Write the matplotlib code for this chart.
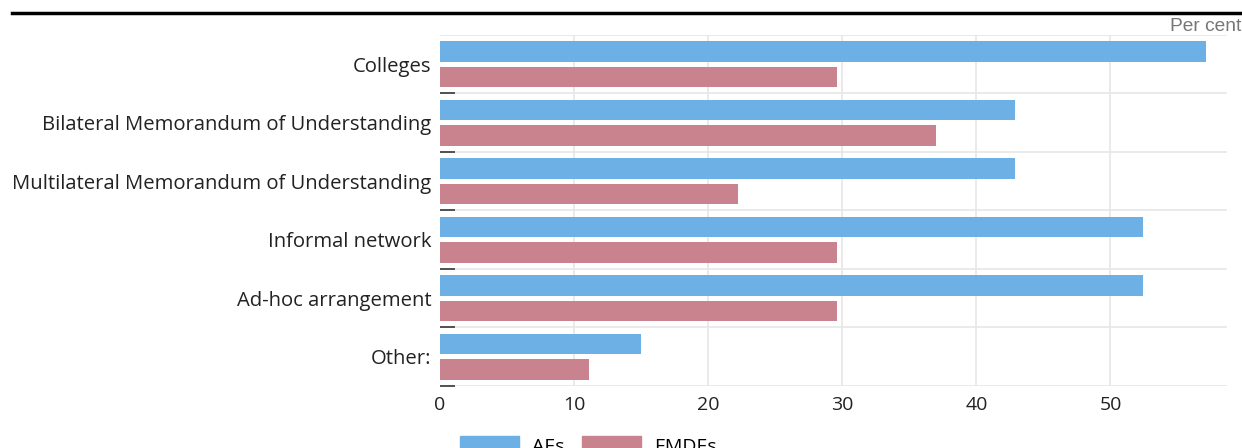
import matplotlib
matplotlib.use("Agg")
import matplotlib.pyplot as plt
from matplotlib.patches import Patch
import numpy as np

# Share of respondents using each cooperation channel
categories = [
    "Colleges",
    "Bilateral Memorandum of Understanding",
    "Multilateral Memorandum of Understanding",
    "Informal network",
    "Ad-hoc arrangement",
    "Other:",
]
aes = [57.1, 42.9, 42.9, 52.4, 52.4, 15.0]
emdes = [29.6, 37.0, 22.2, 29.6, 29.6, 11.1]
xticks = [0, 10, 20, 30, 40, 50]

blue = "#6cb0e6"
pink = "#c8838f"
grid_color = "#e6e6e6"
text_color = "#222222"

plt.rcParams["font.family"] = ["Open Sans", "DejaVu Sans"]

fig = plt.figure(figsize=(12.42, 4.48), dpi=100)
ax = fig.add_axes([0.3543, 0.1384, 0.6337, 0.7836])

y = np.arange(len(categories))
h = 0.35
ax.barh(y - 0.22, aes, height=h, color=blue, zorder=3)
ax.barh(y + 0.22, emdes, height=h, color=pink, zorder=3)

ax.set_xlim(0, 58.7)
ax.set_ylim(len(categories) - 0.5, -0.5)

ax.set_yticks(y)
ax.set_yticklabels(categories, fontsize=14.6, color=text_color)
ax.set_xticks(xticks)
ax.set_xticklabels([str(t) for t in xticks], fontsize=14, color=text_color)
ax.tick_params(axis="y", length=0, pad=6)
ax.tick_params(axis="x", length=0, pad=7)

# light grid: vertical lines at ticks, horizontal lines between categories
for t in xticks[1:]:
    ax.axvline(t, color=grid_color, lw=1.2, zorder=1)
for b in np.arange(-0.5, len(categories), 1.0):
    ax.axhline(b, color=grid_color, lw=1.2, zorder=1)

# short dark marks at category boundaries
ax.set_yticks(np.arange(0.5, len(categories), 1.0), minor=True)
ax.tick_params(axis="y", which="minor", direction="in", length=11,
               width=1.3, color="#444444")

for s in ax.spines.values():
    s.set_visible(False)

# unit label and rule line at top
fig.text(0.9995, 0.922, "Per cent", ha="right", va="bottom", fontsize=13.8,
         color="#777777", family=["Liberation Sans Narrow", "Liberation Sans"])
fig.add_artist(plt.Line2D([0.01, 1.0], [0.972, 0.972], color="black", lw=2.5,
                          transform=fig.transFigure))

handles = [Patch(color=blue, label="AEs"), Patch(color=pink, label="EMDEs")]
fig.legend(handles=handles, loc="upper center", bbox_to_anchor=(0.474, 0.065),
           ncol=2, frameon=False, fontsize=14, handlelength=3.0,
           handleheight=1.0, columnspacing=0.9, handletextpad=0.7)

fig.savefig("out.png", dpi=100, facecolor="white")
